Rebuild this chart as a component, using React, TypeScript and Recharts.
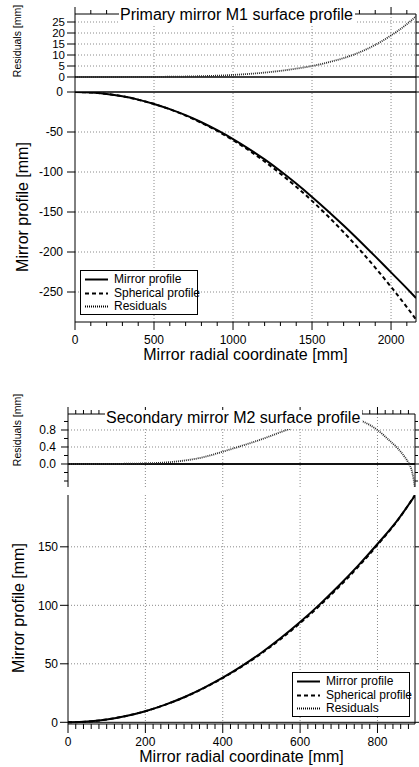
import React from 'react';
import { LineChart, Line, XAxis, YAxis, ReferenceLine } from 'recharts';

const FONT = '"Liberation Sans", Arial, sans-serif';

// ---------- Primary mirror M1 ----------
const m1Radius = [0, 100, 200, 300, 400, 500, 600, 700, 800, 900, 1000, 1100, 1200, 1300, 1400, 1500, 1600, 1700, 1800, 1900, 2000, 2100, 2158];
const m1Mirror = [0, -0.6, -2.4, -5.4, -9.5, -14.9, -21.4, -29.0, -37.8, -47.8, -58.8, -71.0, -84.3, -98.8, -114.5, -131.2, -148.7, -167.0, -186.0, -205.5, -225.5, -245.5, -257.5];
const m1Spherical = [0, -0.6, -2.4, -5.4, -9.6, -15.0, -21.6, -29.5, -38.5, -48.7, -60.2, -72.9, -86.9, -102.0, -118.5, -136.1, -155.1, -175.3, -196.7, -219.5, -243.6, -268.9, -284.3];
const m1Residual = [0, 0, 0, 0.01, 0.03, 0.06, 0.12, 0.22, 0.38, 0.6, 0.95, 1.4, 2.0, 2.8, 3.8, 5.0, 6.6, 8.6, 11.2, 14.6, 18.9, 24.0, 27.6];

const m1XTicks = [0, 100, 200, 300, 400, 500, 600, 700, 800, 900, 1000, 1100, 1200, 1300, 1400, 1500, 1600, 1700, 1800, 1900, 2000, 2100];
const m1XMajor = [0, 500, 1000, 1500, 2000];
const m1YTicks = [0, -50, -100, -150, -200, -250];
const m1ResTicks = [0, 5, 10, 15, 20, 25];

// ---------- Secondary mirror M2 ----------
const m2Radius = [0, 50, 100, 150, 200, 250, 300, 350, 400, 450, 500, 550, 600, 650, 700, 750, 800, 850, 897];
const m2Mirror = [0, 0.6, 2.4, 5.4, 9.5, 14.9, 21.4, 29.2, 38.1, 48.2, 59.5, 72.0, 85.7, 100.6, 116.7, 133.9, 152.4, 172.0, 193.8];
const m2Spherical = [0, 0.6, 2.4, 5.4, 9.48, 14.86, 21.32, 29.04, 37.81, 47.77, 58.92, 71.25, 84.79, 99.57, 115.6, 132.86, 151.6, 171.62, 194.3];
const m2ResRadius = [0, 50, 100, 150, 200, 250, 300, 350, 400, 450, 500, 550, 580, 600, 650, 700, 750, 760, 800, 830, 850, 870, 880, 890, 897];
const m2Residual = [0, 0, 0.002, 0.006, 0.015, 0.035, 0.08, 0.16, 0.29, 0.43, 0.58, 0.75, 0.85, 0.91, 1.03, 1.1, 1.05, 1.01, 0.8, 0.56, 0.39, 0.17, 0.03, -0.2, -0.56];

const m2XTicks = [0, 20, 40, 60, 80, 100, 120, 140, 160, 180, 200, 220, 240, 260, 280, 300, 320, 340, 360, 380, 400, 420, 440, 460, 480, 500, 520, 540, 560, 580, 600, 620, 640, 660, 680, 700, 720, 740, 760, 780, 800, 820, 840, 860, 880];
const m2XMajor = [0, 200, 400, 600, 800];
const m2YTicks = [0, 50, 100, 150];
const m2ResTicks = [-0.4, -0.2, 0, 0.2, 0.4, 0.6, 0.8, 1.0];
const m2ResMajor = [0, 0.4, 0.8];

// ---------- tables for the library ----------
const m1Data = m1Radius.map((r, i) => ({ r, mirror: m1Mirror[i], sphere: m1Spherical[i], res: m1Residual[i] }));
const m2Data = m2Radius.map((r, i) => ({ r, mirror: m2Mirror[i], sphere: m2Spherical[i] }));
const m2ResData = m2ResRadius.map((r, i) => ({ r, res: m2Residual[i] }));

const GRID = { stroke: '#8a8a8a', strokeDasharray: '1 2', strokeWidth: 1 };
const AX = { stroke: '#000', strokeWidth: 1 };
const RES_STYLE = { stroke: '#2a2a2a', strokeWidth: 1.8, strokeDasharray: '1 1' };

type Side = 'top' | 'bottom' | 'left' | 'right';
const isIn = (v: number, list: number[]) => list.some((m) => Math.abs(m - v) < 1e-6);

function makeTick(side: Side, majors: number[], majorLen: number, minorLen: number, label: boolean, gap = 0, digits?: number, fontSize = 12) {
  return (props: any) => {
    const { x, y, payload } = props;
    const v = Number(payload.value);
    const maj = isIn(v, majors);
    const len = maj ? majorLen : minorLen;
    const txt = digits != null ? v.toFixed(digits) : String(v);
    const ts = { fontSize, fill: '#000', fontFamily: FONT } as any;
    if (side === 'bottom') {
      return (
        <g>
          <line x1={x} y1={y} x2={x} y2={y + len} stroke="#000" />
          {label && maj ? <text x={x} y={y + gap} textAnchor="middle" style={ts}>{txt}</text> : null}
        </g>
      );
    }
    if (side === 'top') {
      return <g><line x1={x} y1={y} x2={x} y2={y - len} stroke="#000" /></g>;
    }
    if (side === 'left') {
      return (
        <g>
          <line x1={x - len} y1={y} x2={x} y2={y} stroke="#000" />
          {label && maj ? <text x={x - gap} y={y} dy="0.36em" textAnchor="end" style={ts}>{txt}</text> : null}
        </g>
      );
    }
    return <g><line x1={x} y1={y} x2={x + len} y2={y} stroke="#000" /></g>;
  };
}

const axisCommon = { tickSize: 0, tickMargin: 0, tickLine: false, interval: 0 as const, allowDataOverflow: true };

function Legend({ left, top }: { left: number; top: number }) {
  const rows = [
    { name: 'Mirror profile', dash: undefined as string | undefined, w: 2 },
    { name: 'Spherical profile', dash: '4 3', w: 2 },
    { name: 'Residuals', dash: '1 1', w: 1.8 },
  ];
  return (
    <div style={{ position: 'absolute', left, top, width: 116, height: 43, border: '1px solid #000', background: '#fff', zIndex: 3 }}>
      {rows.map((r, i) => (
        <div key={r.name} style={{ position: 'absolute', left: 3, top: 2 + i * 13.5, height: 13, display: 'flex', alignItems: 'center', whiteSpace: 'nowrap' }}>
          <svg width={24} height={13} style={{ display: 'block' }}>
            <line x1={1} y1={6.5} x2={24} y2={6.5} stroke="#000" strokeWidth={r.w} strokeDasharray={r.dash} />
          </svg>
          <span style={{ marginLeft: 6, fontSize: 12, fontFamily: FONT, lineHeight: '13px' }}>{r.name}</span>
        </div>
      ))}
    </div>
  );
}

function Title({ text, left, top }: { text: string; left: number; top: number }) {
  return (
    <div style={{ position: 'absolute', left, top, background: '#fff', fontSize: 16, lineHeight: '16px', padding: '0 2px 3px 1px', fontFamily: FONT, whiteSpace: 'nowrap', zIndex: 3 }}>{text}</div>
  );
}

function VLabel({ text, cx, cy, size }: { text: string; cx: number; cy: number; size: number }) {
  return (
    <div style={{ position: 'absolute', left: cx, top: cy, transform: 'translate(-50%, -50%) rotate(-90deg)', fontSize: size, lineHeight: `${size}px`, fontFamily: FONT, whiteSpace: 'nowrap', zIndex: 3 }}>{text}</div>
  );
}

function HLabel({ text, left, width, top }: { text: string; left: number; width: number; top: number }) {
  return (
    <div style={{ position: 'absolute', left, width, top, textAlign: 'center', fontSize: 16, lineHeight: '14px', fontFamily: FONT, whiteSpace: 'nowrap', zIndex: 3 }}>{text}</div>
  );
}

export default function App() {
  return (
    <div style={{ position: 'absolute', left: 0, top: 0, width: 419, height: 767, background: '#fff', overflow: 'hidden', fontFamily: FONT }}>
      {/* M1 residuals */}
      <div style={{ position: 'absolute', left: 0, top: 0 }}>
        <LineChart width={419} height={92} data={m1Data} margin={{ top: 0, right: 0, bottom: 0, left: 0 }}>
          <XAxis dataKey="r" type="number" orientation="top" domain={[0, 2158]} ticks={m1XTicks} height={14} axisLine={AX} tick={makeTick('top', m1XMajor, 7, 4, false)} {...axisCommon} />
          <YAxis type="number" domain={[-6.82, 28.64]} ticks={m1ResTicks} width={75} axisLine={AX} tick={makeTick('left', m1ResTicks, 8, 8, true, 10, undefined, 11.5)} {...axisCommon} />
          <YAxis yAxisId="r" orientation="right" type="number" domain={[-6.82, 28.64]} ticks={m1ResTicks} width={3} axisLine={AX} tick={makeTick('right', m1ResTicks, 3, 3, false)} {...axisCommon} />
          {m1XMajor.slice(1).map((v) => <ReferenceLine key={'x' + v} x={v} {...GRID} />)}
          {m1ResTicks.slice(1).map((v) => <ReferenceLine key={'y' + v} y={v} {...GRID} />)}
          <ReferenceLine y={0} stroke="#000" strokeWidth={1.5} />
          <Line dataKey="res" type="monotone" {...RES_STYLE} dot={false} activeDot={false} isAnimationActive={false} />
        </LineChart>
      </div>
      {/* M1 main */}
      <div style={{ position: 'absolute', left: 0, top: 78 }}>
        <LineChart width={419} height={289} data={m1Data} margin={{ top: 14, right: 0, bottom: 0, left: 0 }}>
          <XAxis dataKey="r" type="number" domain={[0, 2158]} ticks={m1XTicks} height={45} axisLine={AX} tick={makeTick('bottom', m1XMajor, 8, 4, true, 22)} {...axisCommon} />
          <YAxis type="number" domain={[-287.5, 0]} ticks={m1YTicks} width={75} axisLine={AX} tick={makeTick('left', m1YTicks, 8, 8, true, 12)} {...axisCommon} />
          <YAxis yAxisId="r" orientation="right" type="number" domain={[-287.5, 0]} ticks={m1YTicks} width={3} axisLine={AX} tick={makeTick('right', m1YTicks, 3, 3, false)} {...axisCommon} />
          {m1XMajor.slice(1).map((v) => <ReferenceLine key={'x' + v} x={v} {...GRID} />)}
          {m1YTicks.slice(1).map((v) => <ReferenceLine key={'y' + v} y={v} {...GRID} />)}
          <ReferenceLine y={0} stroke="#000" strokeWidth={1.5} />
          <Line dataKey="sphere" type="monotone" stroke="#000" strokeWidth={2} strokeDasharray="4 3" dot={false} activeDot={false} isAnimationActive={false} />
          <Line dataKey="mirror" type="monotone" stroke="#000" strokeWidth={2} dot={false} activeDot={false} isAnimationActive={false} />
        </LineChart>
      </div>

      {/* M2 residuals */}
      <div style={{ position: 'absolute', left: 0, top: 400 }}>
        <LineChart width={419} height={87} data={m2ResData} margin={{ top: 0, right: 0, bottom: 0, left: 0 }}>
          <XAxis dataKey="r" type="number" orientation="top" domain={[0, 897]} ticks={m2XTicks} height={14} axisLine={AX} tick={makeTick('top', m2XMajor, 7, 4, false)} {...axisCommon} />
          <YAxis type="number" domain={[-0.541, 1.176]} ticks={m2ResTicks} width={68} axisLine={AX} tick={makeTick('left', m2ResMajor, 7, 4, true, 12, 1)} {...axisCommon} />
          <YAxis yAxisId="r" orientation="right" type="number" domain={[-0.541, 1.176]} ticks={m2ResTicks} width={4} axisLine={AX} tick={makeTick('right', m2ResMajor, 4, 3, false)} {...axisCommon} />
          {m2XMajor.slice(1).map((v) => <ReferenceLine key={'x' + v} x={v} {...GRID} />)}
          {[0.4, 0.8].map((v) => <ReferenceLine key={'y' + v} y={v} {...GRID} />)}
          <ReferenceLine y={0} stroke="#111" strokeWidth={2} />
          <Line dataKey="res" type="monotone" {...RES_STYLE} dot={false} activeDot={false} isAnimationActive={false} />
        </LineChart>
      </div>
      {/* M2 main */}
      <div style={{ position: 'absolute', left: 0, top: 495 }}>
        <LineChart width={419} height={274} data={m2Data} margin={{ top: 0, right: 0, bottom: 0, left: 0 }}>
          <XAxis dataKey="r" type="number" domain={[0, 897]} ticks={m2XTicks} height={45} axisLine={AX} tick={makeTick('bottom', m2XMajor, 9, 5, true, 22)} {...axisCommon} />
          <YAxis type="number" domain={[-1.45, 194.3]} ticks={m2YTicks} width={68} axisLine={AX} tick={makeTick('left', m2YTicks, 8, 8, true, 10)} {...axisCommon} />
          <YAxis yAxisId="r" orientation="right" type="number" domain={[-1.45, 194.3]} ticks={m2YTicks} width={4} axisLine={AX} tick={makeTick('right', m2YTicks, 4, 4, false)} {...axisCommon} />
          {m2XMajor.slice(1).map((v) => <ReferenceLine key={'x' + v} x={v} {...GRID} />)}
          {m2YTicks.slice(1).map((v) => <ReferenceLine key={'y' + v} y={v} {...GRID} />)}
          <ReferenceLine y={0} stroke="#000" strokeWidth={1} />
          <Line dataKey="sphere" type="monotone" stroke="#000" strokeWidth={2} strokeDasharray="4 3" dot={false} activeDot={false} isAnimationActive={false} />
          <Line dataKey="mirror" type="monotone" stroke="#000" strokeWidth={2} dot={false} activeDot={false} isAnimationActive={false} />
        </LineChart>
      </div>

      {/* Titles, labels, legends */}
      <Title text="Primary mirror M1 surface profile" left={119} top={7} />
      <Title text="Secondary mirror M2 surface profile" left={105} top={410} />
      <VLabel text="Residuals [mm]" cx={17} cy={41} size={10.5} />
      <VLabel text="Mirror profile [mm]" cx={23} cy={207} size={16} />
      <VLabel text="Residuals [mm]" cx={17} cy={430} size={10.5} />
      <VLabel text="Mirror profile [mm]" cx={19} cy={608} size={16} />
      <HLabel text="Mirror radial coordinate [mm]" left={75} width={341} top={348} />
      <HLabel text="Mirror radial coordinate [mm]" left={68} width={347} top={750} />
      <Legend left={80} top={270} />
      <Legend left={292} top={672} />
    </div>
  );
}
